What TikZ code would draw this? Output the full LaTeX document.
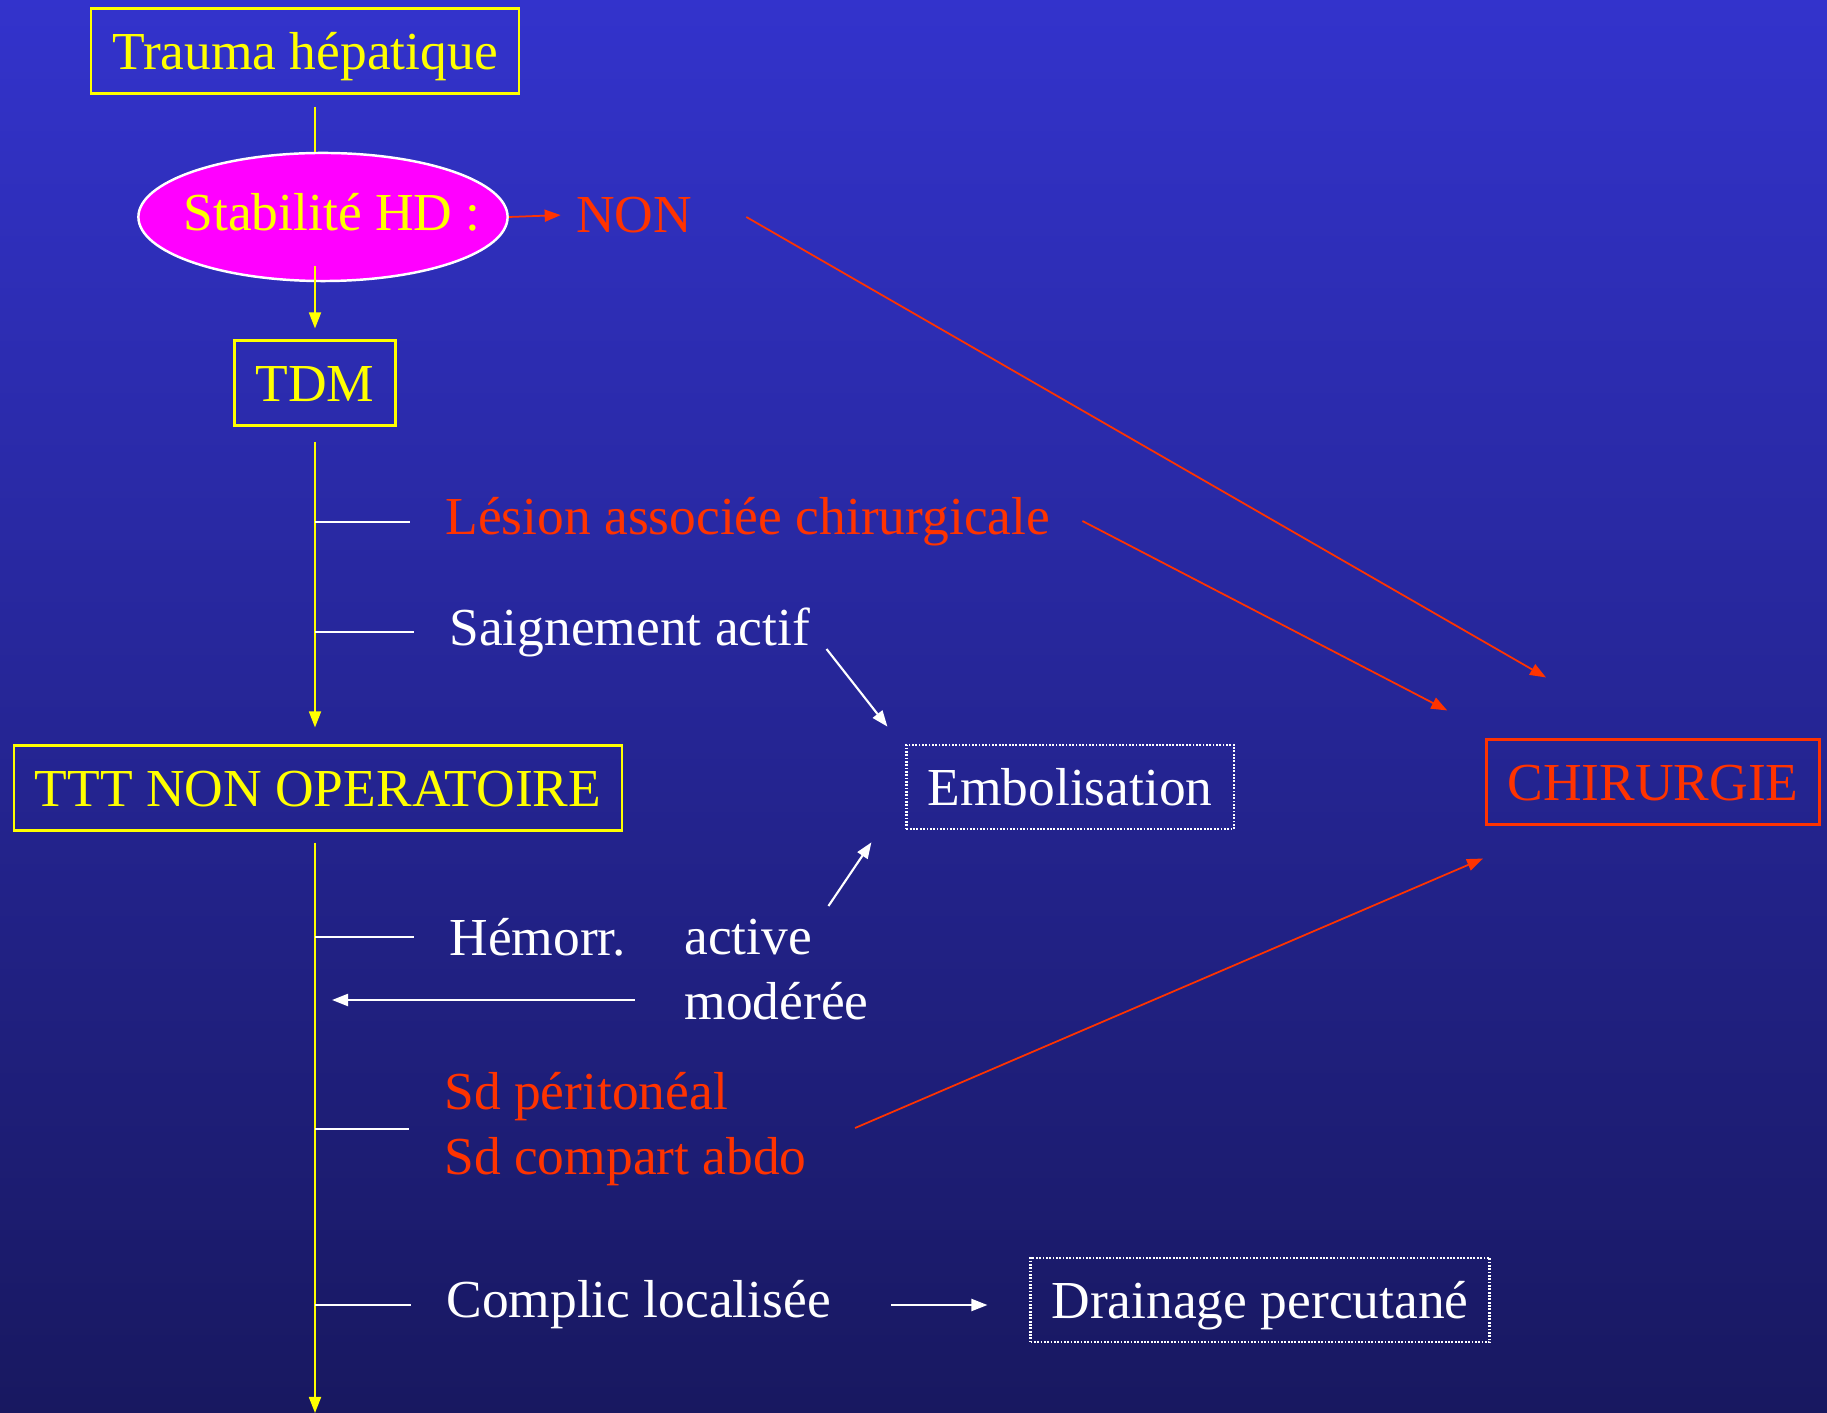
\documentclass[tikz,border=0pt]{standalone}
\usepackage{fontspec}
\setmainfont{Liberation Serif}
\usetikzlibrary{arrows.meta,shapes.geometric,calc}

\definecolor{bgtop}{RGB}{51,51,204}
\definecolor{bgbot}{RGB}{24,24,96}
\definecolor{redtxt}{RGB}{255,51,0}
\definecolor{ylw}{RGB}{255,255,0}
\definecolor{mgt}{RGB}{255,0,255}

\tikzset{
  boxbase/.style={line width=0.7pt, inner xsep=0.21cm, minimum height=0.84cm, text height=14pt, text depth=3.4pt},
  ybox/.style={boxbase, draw=ylw, text=ylw},
  rbox/.style={boxbase, draw=redtxt, text=redtxt},
  wbox/.style={boxbase, draw=white, text=white, line width=0.6pt, dash pattern=on 0.5pt off 0.45pt},
  yline/.style={draw=ylw, line width=0.5pt},
  rline/.style={draw=redtxt, line width=0.5pt},
  wline/.style={draw=white, line width=0.6pt},
  lbl/.style={anchor=west, text=white, align=left},
}

\begin{document}
\begin{tikzpicture}[x=0.01cm, y=-0.01cm, font=\fontsize{15.2}{18.7}\selectfont,
    >={Triangle[length=0.16cm,width=0.12cm]}]
    \shade[top color=bgtop, bottom color=bgbot] (0,0) rectangle (1827,1413);
    \useasboundingbox (0,0) rectangle (1827,1413);

    \node[ybox] (trauma) at (305,51) {Trauma hépatique};
    \node[ellipse, draw=white, fill=mgt, text=ylw, line width=0.7pt, text height=10.4pt, text depth=2.6pt,
          minimum width=3.69cm, minimum height=1.28cm, inner xsep=-0.3cm, inner ysep=0pt] (stab) at (323,217) {\hspace*{0.18cm}Stabilité HD :};
    \node[text=redtxt] (non) at (634,215) {NON};
    \node[ybox] (tdm) at (315,383) {TDM};
    \node[ybox] (ttt) at (318,788) {TTT NON OPERATOIRE};
    \node[wbox] (embol) at (1070,787) {Embolisation};
    \node[rbox] (chir) at (1653,782) {CHIRURGIE};
    \node[wbox] (drain) at (1260,1300) {Drainage percutané};

    \node[lbl, text=redtxt] (lesion) at (433,522) {Lésion associée chirurgicale};
    \node[lbl] (saign) at (437,632) {Saignement actif};
    \node[lbl] (hemorr) at (437,937) {Hémorr.};
    \node[lbl] (active) at (672,937) {active};
    \node[lbl] (moderee) at (672,1001) {modérée};
    \node[lbl, text=redtxt] (sd) at (432,1129) {Sd péritonéal\\Sd compart abdo};
    \node[lbl] (complic) at (434,1305) {Complic localisée};
    \coordinate (bottom) at (315,1413);

    % main line
    \draw[yline, shorten <=0.12cm] (trauma.south -| tdm) -- (stab.north -| tdm);
    \draw[yline, ->, shorten >=0.11cm] ($(stab.south -| tdm)+(0,-16)$) -- (tdm.north);
    \draw[yline, ->, shorten <=0.15cm, shorten >=0.17cm] (tdm.south) -- (ttt.north -| tdm);
    \draw[yline, ->, shorten <=0.11cm] (ttt.south -| tdm) -- (bottom);
    \foreach \n in {lesion,saign,hemorr,sd,complic}
        \draw[wline, shorten >=0.23cm] (\n.west -| tdm) -- (\n.west);

    % vers chirurgie
    \draw[rline, ->, shorten >=0.03cm] (stab.east) -- (non.west);
    \draw[rline, ->] ($(non.east)+(42,2)$) -- ($(chir.north)+(-107,-61)$);
    \draw[rline, ->] ($(lesion.east)+(20,-1)$) -- ($(chir.north west)+(-38,-28)$);
    \draw[rline, ->] ($(sd.east)+(36,-1)$) -- ($(chir.south)+(-170,33)$);

    % embolisation, drainage
    \draw[wline, ->] ($(saign.east)+(4,17)$) -- ($(embol.north west)+(-18,-17)$);
    \draw[wline, ->] ($(active.east)+(4,-31)$) -- ($(embol.south west)+(-34,12)$);
    \draw[wline, ->, shorten >=0.17cm] ($(moderee.west)+(-37,-1)$) -- ($(moderee.west -| tdm)+(0,-1)$);
    \draw[wline, ->, shorten <=0.48cm, shorten >=0.42cm] (complic.east) -- (complic.east -| drain.west);
\end{tikzpicture}
\end{document}
